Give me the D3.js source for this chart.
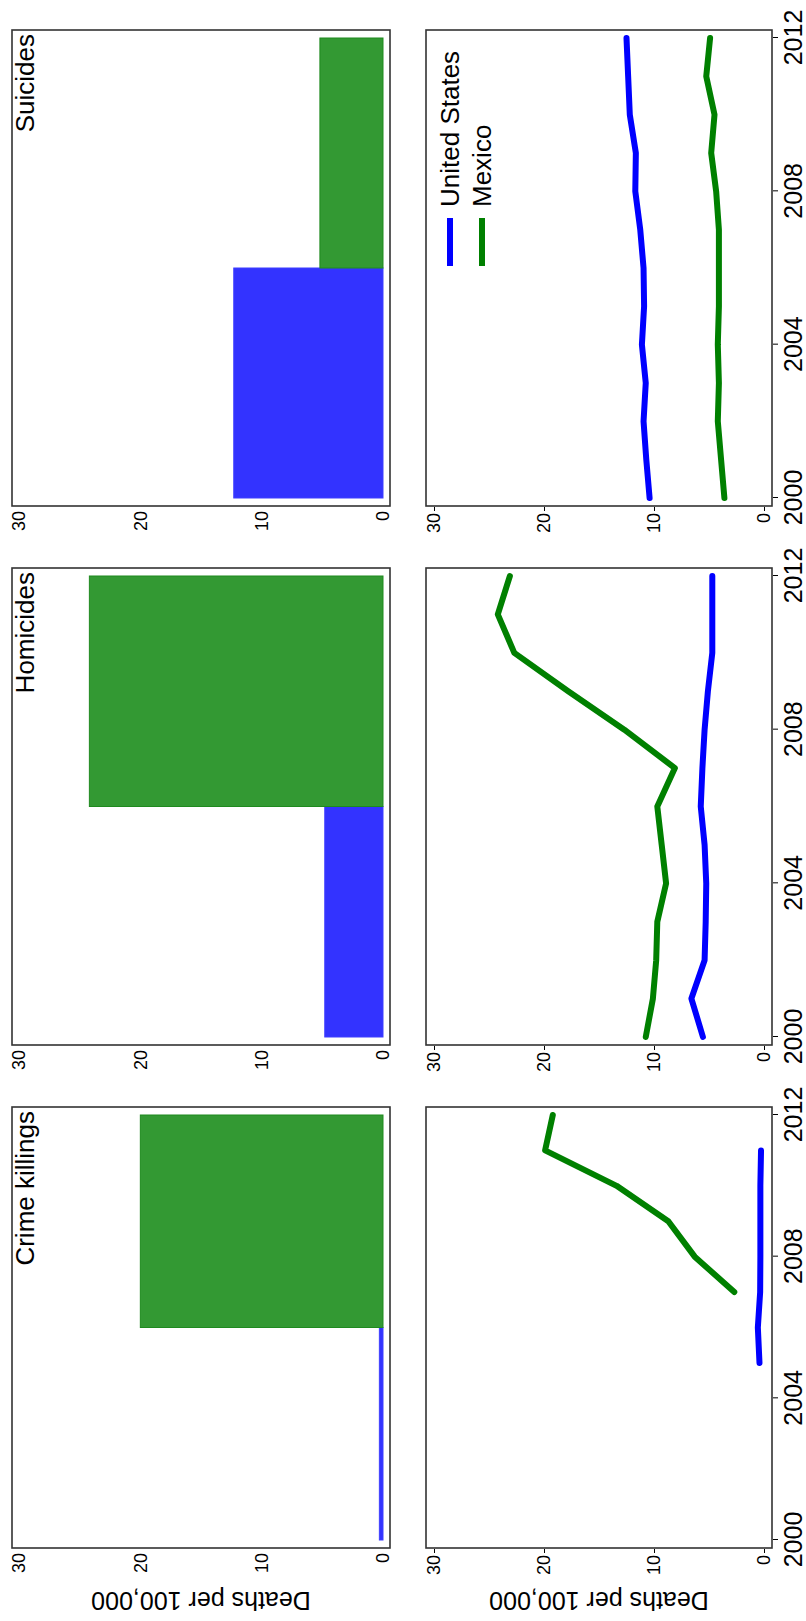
<!DOCTYPE html>
<html>
<head>
<meta charset="utf-8">
<script src="https://cdnjs.cloudflare.com/ajax/libs/d3/7.8.5/d3.min.js"></script>
<style>
  body { margin: 0; background: #fff; }
  svg { display: block; font-family: "Liberation Sans", Helvetica, Arial, sans-serif; }
</style>
</head>
<body>
<div id="graph"></div>
<script>
// panels, left to right in the landscape chart
const panel_titles = ['Crime killings', 'Homicides', 'Suicides'];
const years = [2000, 2001, 2002, 2003, 2004, 2005, 2006, 2007, 2008, 2009, 2010, 2011, 2012];
const value_ticks = [0, 10, 20, 30];
const year_ticks = [2000, 2004, 2008, 2012];
const series_names = ['United States', 'Mexico'];

// period averages (bars)
const us_period = [2000, 2006];
const mexico_period = [2006, 2012];
const us_bars = [0.3, 4.8, 12.3];
const mexico_bars = [20.0, 24.2, 5.2];

// yearly rates per 100,000 (null = no data)
const us_crime = [null, null, null, null, null, 0.41, 0.56, 0.35, 0.33, 0.33, 0.33, 0.27, null];
const mexico_crime = [null, null, null, null, null, null, null, 2.7, 6.3, 8.7, 13.4, 19.9, 19.2];
const us_homicides = [5.55, 6.6, 5.4, 5.3, 5.25, 5.4, 5.75, 5.6, 5.4, 5.1, 4.7, 4.7, 4.7];
const mexico_homicides = [10.75, 10.1, 9.8, 9.7, 8.9, 9.3, 9.7, 8.1, 12.7, 17.8, 22.7, 24.2, 23.1];
const us_suicides = [10.4, 10.7, 10.95, 10.75, 11.1, 10.9, 10.95, 11.25, 11.7, 11.65, 12.2, 12.35, 12.5];
const mexico_suicides = [3.6, 3.9, 4.2, 4.1, 4.2, 4.1, 4.1, 4.1, 4.35, 4.8, 4.5, 5.25, 4.9];

const us_lines = [us_crime, us_homicides, us_suicides];
const mexico_lines = [mexico_crime, mexico_homicides, mexico_suicides];

const blue = '#0000ff';
const green = '#008000';

// the chart is drawn landscape (w x h) and turned a quarter turn
const w = 1621;
const h = 806;
const frame_left = [73, 576, 1115];
const frame_right = [514, 1053, 1591];
const bar_top = 12, bar_bottom = 390;
const line_top = 426, line_bottom = 772;

const svg = d3.select('#graph')
  .append('svg')
  .attr('width', h)
  .attr('height', w);

const chart = svg.append('g')
  .attr('transform', 'translate(0,' + w + ') rotate(-90)');

const yBar = d3.scaleLinear().domain([0, 30]).range([383, 19]);
const yLine = d3.scaleLinear().domain([0, 30]).range([764, 434]);

for (let i = 0; i < panel_titles.length; i++) {
  const xScale = d3.scaleLinear()
    .domain([2000, 2012])
    .range([frame_left[i] + 8, frame_right[i] - 8]);

  //bars
  const bars = chart.append('g');
  bars.append('rect')
    .attr('x', xScale(us_period[0]))
    .attr('y', yBar(us_bars[i]))
    .attr('width', xScale(us_period[1]) - xScale(us_period[0]))
    .attr('height', yBar(0) - yBar(us_bars[i]))
    .attr('fill', '#3333ff')
    .attr('stroke', '#3f3fff')
    .attr('stroke-width', 1);
  bars.append('rect')
    .attr('x', xScale(mexico_period[0]))
    .attr('y', yBar(mexico_bars[i]))
    .attr('width', xScale(mexico_period[1]) - xScale(mexico_period[0]))
    .attr('height', yBar(0) - yBar(mexico_bars[i]))
    .attr('fill', '#339933')
    .attr('stroke', '#1f8a1f')
    .attr('stroke-width', 1);

  //frames
  chart.append('rect')
    .attr('x', frame_left[i]).attr('y', bar_top)
    .attr('width', frame_right[i] - frame_left[i]).attr('height', bar_bottom - bar_top)
    .attr('fill', 'none').attr('stroke', '#333').attr('stroke-width', 1.6);
  chart.append('rect')
    .attr('x', frame_left[i]).attr('y', line_top)
    .attr('width', frame_right[i] - frame_left[i]).attr('height', line_bottom - line_top)
    .attr('fill', 'none').attr('stroke', '#333').attr('stroke-width', 1.6);

  //lines
  const line = d3.line()
    .defined((d) => d[1] != null)
    .x((d) => xScale(d[0]))
    .y((d) => yLine(d[1]));
  chart.append('path')
    .datum(years.map((y, j) => [y, mexico_lines[i][j]]))
    .attr('d', line)
    .attr('fill', 'none').attr('stroke', green)
    .attr('stroke-width', 6).attr('stroke-linecap', 'round').attr('stroke-linejoin', 'round');
  chart.append('path')
    .datum(years.map((y, j) => [y, us_lines[i][j]]))
    .attr('d', line)
    .attr('fill', 'none').attr('stroke', blue)
    .attr('stroke-width', 6).attr('stroke-linecap', 'round').attr('stroke-linejoin', 'round');

  //value axes
  const barAxis = chart.append('g')
    .attr('transform', 'translate(' + frame_left[i] + ',0)')
    .call(d3.axisLeft(yBar).tickValues(value_ticks).tickSize(0).tickPadding(5));
  const lineAxis = chart.append('g')
    .attr('transform', 'translate(' + (frame_left[i] - 1) + ',0)')
    .call(d3.axisLeft(yLine).tickValues(value_ticks).tickSize(4).tickPadding(2));

  //year axis
  const yearAxis = chart.append('g')
    .attr('transform', 'translate(0,' + (line_bottom + 1) + ')')
    .call(d3.axisBottom(xScale).tickValues(year_ticks).tickFormat(d3.format('d')).tickSize(5).tickPadding(6));
  yearAxis.selectAll('text').attr('font-size', 25);

  [barAxis, lineAxis, yearAxis].forEach((a) => {
    a.select('.domain').remove();
    a.attr('font-family', null);
    a.selectAll('line').attr('stroke', '#000');
    a.selectAll('text').attr('fill', '#000');
  });
  barAxis.selectAll('text').attr('font-size', 18);
  lineAxis.selectAll('text').attr('font-size', 18);

  //title
  chart.append('text')
    .text(panel_titles[i])
    .attr('x', frame_right[i] - 4)
    .attr('y', 34)
    .attr('text-anchor', 'end')
    .attr('font-size', 26);
}

//legend (suicides panel)
const legend = chart.append('g');
[blue, green].forEach((c, k) => {
  const ly = 450 + k * 32;
  legend.append('line')
    .attr('x1', 1355).attr('x2', 1403)
    .attr('y1', ly).attr('y2', ly)
    .attr('stroke', c).attr('stroke-width', 6);
  legend.append('text')
    .text(series_names[k])
    .attr('x', 1414).attr('y', ly + 9.3)
    .attr('font-size', 26);
});

//y-labels
[(bar_top + bar_bottom) / 2, (line_top + line_bottom) / 2].forEach((cy) => {
  chart.append('text')
    .text('Deaths per 100,000')
    .attr('transform', 'translate(29,' + cy + ') rotate(-90)')
    .attr('text-anchor', 'middle')
    .attr('font-size', 25);
});
</script>
</body>
</html>
